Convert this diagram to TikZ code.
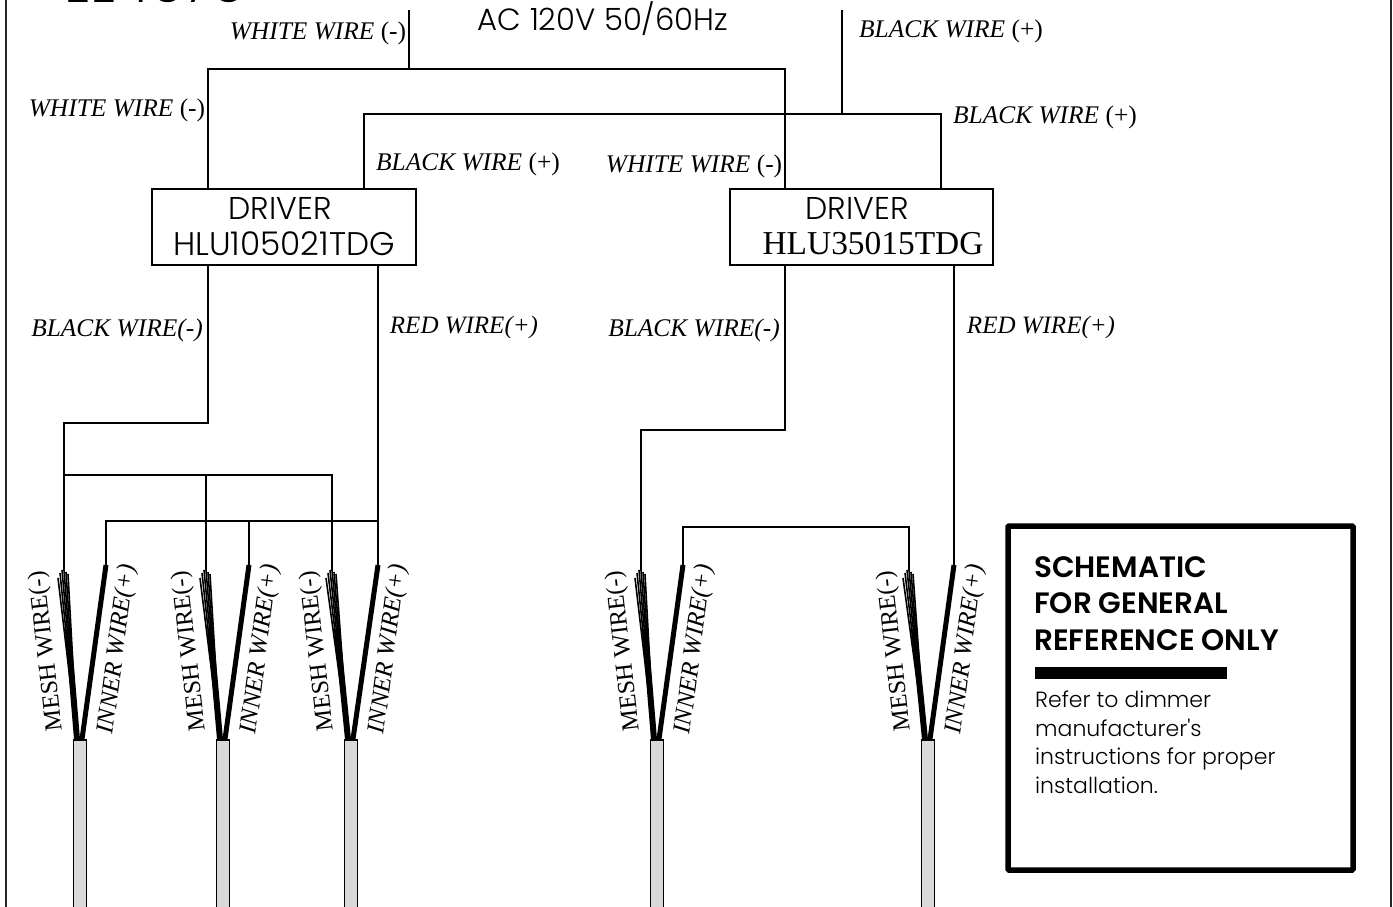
\documentclass[tikz,border=0pt]{standalone}
\usepackage{fontspec}
\setmainfont{Liberation Serif}
\newfontfamily\gothic{Poppins Light}
\newfontfamily\gothicbold{Poppins SemiBold}
\usetikzlibrary{calc}
\definecolor{cablegrey}{HTML}{D9D9D9}
\tikzset{
	wire/.style={line width=1.7pt, line join=miter},
	wirelabel/.style={inner sep=0pt, font=\fontsize{25.4}{28}\selectfont},
	fanlabel/.style={inner sep=0pt, font=\fontsize{24.5}{26}\selectfont},
	driverbox/.style={draw, line width=1.7pt, minimum height=76pt, inner sep=0pt},
	drivertext/.style={inner sep=0pt, font=\gothic\fontsize{31.5}{34}\selectfont},
	cablebox/.style={draw, fill=cablegrey, line width=1.5pt, minimum width=13pt, minimum height=190pt, inner sep=0pt},
	meshstrand/.style={line width=1.6pt},
	innerstrand/.style={line width=5pt},
}

\begin{document}
\begin{tikzpicture}[x=1pt, y=-1pt]
	\useasboundingbox (0,0) rectangle (1393,907);
	% outer frame and cut off heading
	\draw[line width=2.6pt, black!85] (6,-5) -- (6,912);
	\draw[line width=2.6pt, black!85] (1391,-5) -- (1391,912);
	\node[inner sep=0pt, anchor=base west, font=\gothic\fontsize{53}{53}\selectfont] (heading) at (64,3) {EE4676};
	\node[inner sep=0pt, font=\gothic\fontsize{30.7}{33}\selectfont] (mains) at (603,19) {AC 120V 50/60Hz};

	% drivers
	\node[driverbox, minimum width=264pt] (driverA) at (284,227) {};
	\node[driverbox, minimum width=263pt] (driverB) at (861.5,227) {};
	\node[drivertext] (driverAa) at (280,208) {DRIVER};
	\node[drivertext, font=\gothic\fontsize{32.7}{36}\selectfont] (driverAb) at (284,244) {HLU105021TDG};
	\node[drivertext] (driverBa) at (857,208) {DRIVER};
	\node[inner sep=0pt, font=\fontsize{33.4}{36}\selectfont] (driverBb) at (873,244) {HLU35015TDG};

	% mains wiring
	\coordinate (whiteIn) at (409,10);
	\coordinate (whiteJoin) at (409,69);
	\coordinate (whiteL) at (208,69);
	\coordinate (whiteR) at (785,69);
	\coordinate (blackIn) at (842,10);
	\coordinate (blackJoin) at (842,114);
	\coordinate (blackL) at (364,114);
	\coordinate (blackR) at (941,114);
	\draw[wire] (whiteIn) -- (whiteJoin);
	\draw[wire] (whiteL |- driverA.north) -- (whiteL) -- (whiteR) -- (whiteR |- driverB.north);
	\draw[wire] (blackIn) -- (blackJoin);
	\draw[wire] (blackL |- driverA.north) -- (blackL) -- (blackR) -- (blackR |- driverB.north);

	% cables with their two strands
	\foreach \n/\cx/\mx/\ix in {1/80/64/106, 2/223/206/249, 3/351/332/378, 4/657/641/683, 5/928/909/954}{
		\node[cablebox] (cable\n) at (\cx,835) {};
		\coordinate (mesh\n) at (\mx,570);
		\coordinate (inner\n) at (\ix,565);
		\draw[innerstrand] ([xshift=2pt]cable\n.north) -- (inner\n);
		\foreach \off/\rise in {-6/8, -4/3, -2/0, 0/0, 2/2, 4/4}{
			\draw[meshstrand] ([xshift=-3pt]cable\n.north) -- ([xshift=\off pt, yshift=-\rise pt]mesh\n);
		}
		\draw[line width=6pt] ([xshift=-3pt]cable\n.north) -- ($([xshift=-3pt]cable\n.north)!0.65!([xshift=-1pt]mesh\n)$);
		\node[fanlabel, rotate=96.5] (meshtext\n) at (\cx-33,651) {MESH WIRE(-)};
		\node[fanlabel, rotate=82.5, font=\itshape\fontsize{24.8}{26}\selectfont] (innertext\n) at (\cx+38,649) {INNER WIRE(+)};
	}

	% first driver to its three cables
	\coordinate (blackA) at (208,423);
	\coordinate (blackAl) at (64,423);
	\coordinate (meshbus) at (64,475);
	\coordinate (meshbusR) at (332,475);
	\coordinate (redbus) at (378,521);
	\coordinate (redbusL) at (106,521);
	\draw[wire] (blackA |- driverA.south) -- (blackA) -- (blackAl) -- (mesh1);
	\draw[wire] (meshbus) -- (meshbusR) -- (mesh3);
	\draw[wire] (mesh2 |- meshbus) -- (mesh2);
	\draw[wire] (redbus |- driverA.south) -- (inner3);
	\draw[wire] (redbus) -- (redbusL) -- (inner1);
	\draw[wire] (inner2 |- redbus) -- (inner2);

	% second driver to its two cables
	\coordinate (blackB) at (785,430);
	\coordinate (blackBl) at (641,430);
	\coordinate (redB) at (909,527);
	\coordinate (redBl) at (683,527);
	\draw[wire] (blackB |- driverB.south) -- (blackB) -- (blackBl) -- (mesh4);
	\draw[wire] (inner5 |- driverB.south) -- (inner5);
	\draw[wire] (inner4) -- (redBl) -- (redB) -- (mesh5);

	% wire names
	\node[wirelabel] (lblWa) at (318,33) {\textit{WHITE WIRE} (-)};
	\node[wirelabel] (lblWb) at (117,110) {\textit{WHITE WIRE} (-)};
	\node[wirelabel] (lblWc) at (694,166) {\textit{WHITE WIRE} (-)};
	\node[wirelabel] (lblBa) at (951,31) {\textit{BLACK WIRE} (+)};
	\node[wirelabel] (lblBb) at (1045,117) {\textit{BLACK WIRE} (+)};
	\node[wirelabel] (lblBc) at (468,164) {\textit{BLACK WIRE} (+)};
	\node[wirelabel] (lblNa) at (117,330) {\textit{BLACK WIRE(-)}};
	\node[wirelabel] (lblNb) at (694,330) {\textit{BLACK WIRE(-)}};
	\node[wirelabel, font=\fontsize{25}{28}\selectfont] (lblRa) at (464,327) {\textit{RED WIRE(+)}};
	\node[wirelabel, font=\fontsize{25}{28}\selectfont] (lblRb) at (1041,327) {\textit{RED WIRE(+)}};

	% note box
	\node[draw, line width=5.5pt, rounded corners=1pt, minimum width=345pt, minimum height=344pt] (notebox) at (1180.5,698) {};
	\node[inner sep=0pt, anchor=north west, align=left, font=\gothicbold\fontsize{29.5}{36.7}\selectfont] (notehead) at (1034,556) {SCHEMATIC\\FOR GENERAL\\REFERENCE ONLY};
	\node[fill=black, inner sep=0pt, minimum width=192pt, minimum height=12pt] (notebar) at (1131,673) {};
	\node[inner sep=0pt, anchor=north west, align=left, font=\gothic\fontsize{22}{28.5}\selectfont] (notebody) at (1035,691) {Refer to dimmer\\manufacturer's\\instructions for proper\\installation.};
\end{tikzpicture}
\end{document}
